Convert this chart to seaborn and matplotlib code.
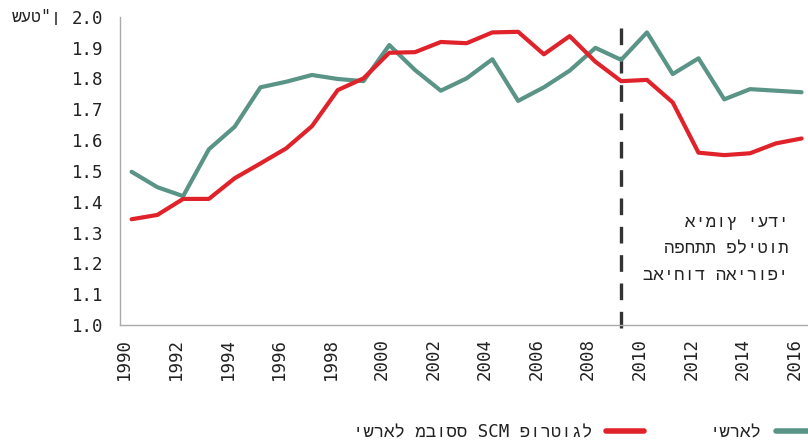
import numpy as np
import pandas as pd
import matplotlib
matplotlib.use("Agg")
import matplotlib.pyplot as plt
from matplotlib.lines import Line2D
import seaborn as sns

years = list(range(1990, 2017))
israel = [1.497, 1.447, 1.418, 1.570, 1.643, 1.771, 1.789, 1.811, 1.798, 1.791,
          1.908, 1.827, 1.760, 1.800, 1.862, 1.727, 1.771, 1.825, 1.899, 1.860,
          1.949, 1.814, 1.865, 1.732, 1.765, 1.760, 1.755]
israel_scm = [1.343, 1.357, 1.409, 1.409, 1.476, 1.524, 1.573, 1.645, 1.762, 1.800,
              1.883, 1.885, 1.918, 1.914, 1.949, 1.951, 1.878, 1.937, 1.854, 1.791,
              1.795, 1.722, 1.559, 1.551, 1.557, 1.589, 1.605]
series_names = ["ישראל", "ישראל מבוסס SCM פורטוגל"]
colors = ["#5a9486", "#e0222b"]
xtick_years = list(range(1990, 2017, 2))
yticks = [1.0, 1.1, 1.2, 1.3, 1.4, 1.5, 1.6, 1.7, 1.8, 1.9, 2.0]
unit_label = "שעט\"ן"
annot_lines = ["אימוץ יעדי", "הפחתת פליטות", "באיחוד האירופי"]
event_year = 2009

sns.set_theme(style="white")
plt.rcParams["font.family"] = ["DejaVu Sans Mono", "Liberation Mono", "DejaVu Sans"]

df = pd.DataFrame({
    "year": years * 2,
    "value": israel + israel_scm,
    "series": [series_names[0]] * len(years) + [series_names[1]] * len(years),
})

fig = plt.figure(figsize=(8.08, 4.46), dpi=100)
ax = fig.add_axes([120 / 808, 1 - 325 / 446, 1 - 120 / 808, (325 - 16.7) / 446])

sns.lineplot(data=df, x="year", y="value", hue="series",
             palette=dict(zip(series_names, colors)), linewidth=3,
             ax=ax, legend=False, solid_capstyle="round")

ax.set_xlim(1989.55, 2016.25)
ax.set_ylim(1.0, 2.0)
ax.set_xticks([y - 0.28 for y in xtick_years])
ax.set_xticklabels([str(t) for t in xtick_years], rotation=90, fontsize=12.5, color="#222222")
ax.set_yticks(yticks)
ax.set_yticklabels([f"{t:.1f}" for t in yticks], fontsize=12.5, color="#222222")
ax.tick_params(axis="both", length=0)
ax.tick_params(axis="y", pad=12)
ax.tick_params(axis="x", pad=9)
ax.set_xlabel("")
ax.set_ylabel("")
for side in ["top", "right"]:
    ax.spines[side].set_visible(False)
for side in ["left", "bottom"]:
    ax.spines[side].set_color("#aaaaaa")
    ax.spines[side].set_linewidth(1.0)

ax.axvline(event_year, ymin=-0.01, ymax=1.0, color="#333333", lw=2.4,
           dashes=(5, 3.5), clip_on=False, zorder=1)

for i, line in enumerate(annot_lines):
    ax.text(2015.5, 1.335 - i * 0.0865, line, ha="right", va="center",
            fontsize=12.5, color="#222222")

fig.text(62 / 808, 1 - 17 / 446, unit_label, ha="right", va="center",
         fontsize=12, color="#222222")

handles = [Line2D([], [], color=colors[1], lw=4, solid_capstyle="round"),
           Line2D([], [], color=colors[0], lw=4, solid_capstyle="round")]
labels = [series_names[1], series_names[0]]
fig.legend(handles, labels, loc="center right", bbox_to_anchor=(814 / 808, 1 - 432 / 446),
           ncol=2, frameon=False, markerfirst=False, fontsize=12.5,
           handlelength=2.2, handletextpad=0.8, columnspacing=3.8, borderpad=0,
           borderaxespad=0, labelcolor="#222222")

fig.savefig("out.png", dpi=100)
